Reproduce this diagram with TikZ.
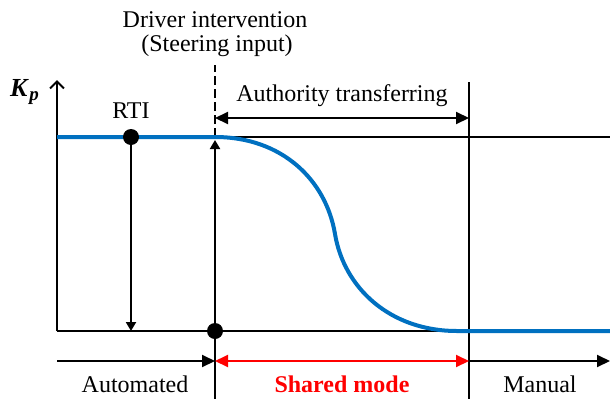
\documentclass[tikz,border=0pt]{standalone}
\usepackage{fontspec}
\setmainfont{Liberation Serif}
\usetikzlibrary{arrows.meta}
\definecolor{kblue}{RGB}{0,112,192}
\definecolor{kred}{RGB}{255,0,0}
\begin{document}
\begin{tikzpicture}[x=1pt,y=-1pt,
  font=\fontsize{24}{28}\selectfont,
  line width=2pt,
  lbl/.style={inner sep=0pt,anchor=base},
  dot/.style={circle,fill=black,inner sep=0pt,minimum size=16pt},
  bigtip/.style={-{Triangle[length=13pt,width=12pt]}},
  bigtwo/.style={{Triangle[length=13pt,width=12pt]}-{Triangle[length=13pt,width=12pt]}},
  smalltip/.style={-{Triangle[length=9pt,width=10pt]}},
  axistip/.style={-{Straight Barb[length=7pt,width=14pt,line width=2pt]}},
  curve/.style={draw=kblue,line width=4pt}]
\useasboundingbox (0,0) rectangle (610,399);
% reference points
\coordinate (O) at (57,331);
\coordinate (Ytop) at (57,80);
\coordinate (TL) at (57,137);
\coordinate (TR) at (610,137);
\coordinate (BR) at (610,331);
\coordinate (Dtop) at (215,65);
\coordinate (Dmid) at (215,137);
\coordinate (Dtip) at (215,140);
\coordinate (Dbot) at (215,399);
\coordinate (Mtop) at (469,82);
\coordinate (Mbot) at (469,399);
\coordinate (Rend) at (131,331);
\coordinate (A1) at (215,118);
\coordinate (A2) at (469,118);
\coordinate (B0) at (57,361);
\coordinate (B1) at (215,361);
\coordinate (B2) at (469,361);
\coordinate (B3) at (610,361);
\coordinate (C0) at (215,137);
\coordinate (C1) at (335,234);
\coordinate (C2) at (457,331);
% frame lines
\draw (TL) -- (TR);
\draw (O) -- (BR);
\draw[axistip] (O) -- (Ytop);
\draw[dash pattern=on 9pt off 4pt] (Dmid) -- (Dtop);
\draw (Mtop) -- (Mbot);
\draw (O -| Dbot) -- (Dbot);
% blue curve
\draw[curve] (TL) -- (C0) .. controls (282,137) and (326,180) .. (C1)
  .. controls (344,288) and (390,331) .. (C2) -- (BR);
% dots and vertical arrows
\node[dot] (rti) at (131,137) {};
\node[dot] (sd) at (215,331) {};
\draw[smalltip] (rti.center) -- (Rend);
\draw[smalltip] (sd.center) -- (Dtip);
% arrows
\draw[bigtwo] (A1) -- (A2);
\draw[bigtip] (B0) -- (B1);
\draw[bigtwo,draw=kred,fill=kred] (B1) -- (B2);
\draw[bigtip] (B2) -- (B3);
% labels
\node[lbl,anchor=base west] (kp) at (9,96) {\fontsize{26}{28}\selectfont\bfseries\itshape K};
\node[lbl,anchor=base west] (kps) at (kp.base east) {\raisebox{-4pt}{\fontsize{19}{20}\selectfont\bfseries\itshape p}};
\node[lbl] (rtil) at (131,118) {RTI};
\node[lbl] (drv) at (215,27) {Driver intervention};
\node[lbl] (str) at (217,51) {(Steering input)};
\node[lbl] (auth) at (342,101) {Authority transferring};
\node[lbl] (auto) at (135,392) {Automated};
\node[lbl,text=kred] (shared) at (342,392) {\bfseries Shared mode};
\node[lbl] (man) at (540,392) {Manual};
\end{tikzpicture}
\end{document}
